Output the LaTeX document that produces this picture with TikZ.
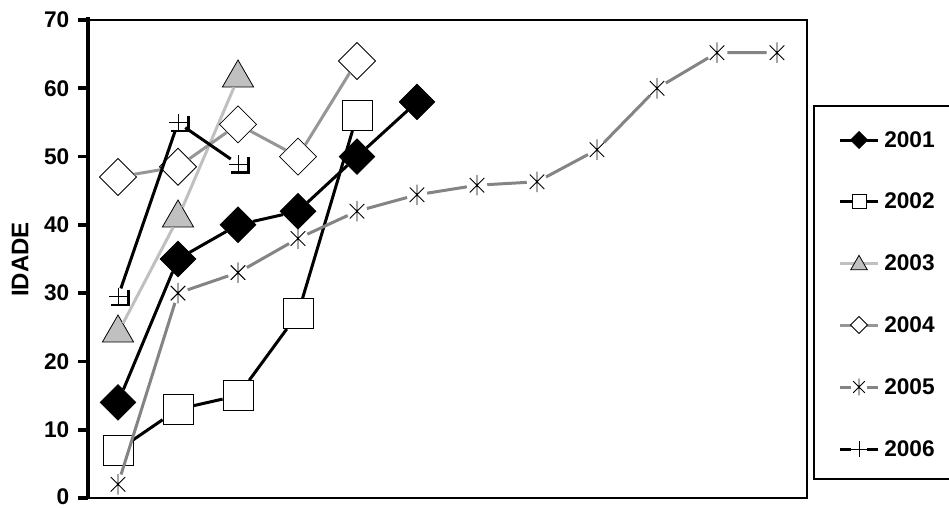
\documentclass[tikz,border=0pt]{standalone}
\usepackage{fontspec}
\setmainfont{Liberation Sans}
\usepackage{tikz}
\usetikzlibrary{shapes.geometric,calc}

\definecolor{lightline}{HTML}{C0C0C0}
\definecolor{midline}{HTML}{969696}
\definecolor{starline}{HTML}{848484}
\newcommand{\axfont}{\fontsize{17}{20}\selectfont\bfseries}

\tikzset{
  serie/.style={line width=2.25pt},
  fdiam/.style={diamond, draw=black, fill=black, line width=0.5pt, inner sep=0pt, minimum width=#1, minimum height=#1},
  odiam/.style={diamond, draw=black, fill=white, line width=0.6pt, inner sep=0pt, minimum width=#1, minimum height=#1},
  osq/.style={rectangle, draw=black, fill=white, line width=0.6pt, inner sep=0pt, minimum size=#1},
  gtri/.style={regular polygon, regular polygon sides=3, draw=black, fill=lightline, line width=0.6pt, inner sep=0pt, minimum size=#1},
  astk/.style={circle, inner sep=0pt, minimum size=#1},
  astkline/.style={black, line width=0.7pt}
}

\begin{document}
\begin{tikzpicture}[x=0.75pt,y=0.75pt,yscale=-1,xscale=1]
\useasboundingbox (0,0) rectangle (949,507);
%Plot frame
\draw [line width=0.9pt]  (88,20) -- (807,20) -- (807,498) -- (88,498) ;
%Axis
\draw [line width=3.4pt]  (88,17) -- (88,499) ;
\draw [line width=2.8pt]  (78,20) -- (88,20) (78,88.3) -- (88,88.3) (78,156.6) -- (88,156.6) (78,224.8) -- (88,224.8)
    (78,293.1) -- (88,293.1) (78,361.4) -- (88,361.4) (78,429.7) -- (88,429.7) (78,498) -- (88,498) ;
% Text Node
\draw (69.5,20) node (y70) [anchor=east][inner sep=0pt][font=\axfont] {70};
\draw (69.5,88.3) node (y60) [anchor=east][inner sep=0pt][font=\axfont] {60};
\draw (69.5,156.6) node (y50) [anchor=east][inner sep=0pt][font=\axfont] {50};
\draw (69.5,224.8) node (y40) [anchor=east][inner sep=0pt][font=\axfont] {40};
\draw (69.5,293.1) node (y30) [anchor=east][inner sep=0pt][font=\axfont] {30};
\draw (69.5,361.4) node (y20) [anchor=east][inner sep=0pt][font=\axfont] {20};
\draw (69.5,429.7) node (y10) [anchor=east][inner sep=0pt][font=\axfont] {10};
\draw (69.5,496.5) node (y0) [anchor=east][inner sep=0pt][font=\axfont] {0};
% Text Node
\draw (20,259.5) node (ylab) [rotate=90][inner sep=0pt][font=\fontsize{18}{21}\selectfont\bfseries] {IDADE};

%Series 2001
\node (a1) [fdiam=27pt] at (118,402.4) {};
\node (a2) [fdiam=27pt] at (178,259) {};
\node (a3) [fdiam=27pt] at (238,224.8) {};
\node (a4) [fdiam=27pt] at (298,211.2) {};
\node (a5) [fdiam=27pt] at (357,156.6) {};
\node (a6) [fdiam=27pt] at (417,101.9) {};
\draw [serie]  (a1) -- (a2) -- (a3) -- (a4) -- (a5) -- (a6) ;

%Series 2002
\node (b1) [osq=22.5pt] at (118,450.2) {};
\node (b2) [osq=22.5pt] at (178,409.2) {};
\node (b3) [osq=22.5pt] at (238,395.6) {};
\node (b4) [osq=22.5pt] at (298,313.6) {};
\node (b5) [osq=22.5pt] at (357,115.6) {};
\draw [serie]  (b1) -- (b2) -- (b3) -- (b4) -- (b5) ;

%Series 2003
\node (c1) [gtri=27pt] at (118,333) {};
\node (c2) [gtri=27pt] at (178,218) {};
\node (c3) [gtri=27pt] at (238,78) {};
\draw [serie, lightline]  (c1) -- (c2) -- (c3) ;

%Series 2004
\node (d1) [odiam=28pt] at (118,177) {};
\node (d2) [odiam=28pt] at (178,166.8) {};
\node (d3) [odiam=28pt] at (238,124.4) {};
\node (d4) [odiam=28pt] at (298,156.6) {};
\node (d5) [odiam=28pt] at (357,61) {};
\draw [serie, midline]  (d1) -- (d2) -- (d3) -- (d4) -- (d5) ;

%Series 2005
\node (e1) [astk=15pt] at (118,484.3) {};
\node (e2) [astk=15pt] at (178,293.1) {};
\node (e3) [astk=15pt] at (238,272.6) {};
\node (e4) [astk=15pt] at (298,238.5) {};
\node (e5) [astk=15pt] at (357,211.2) {};
\node (e6) [astk=15pt] at (417,194.8) {};
\node (e7) [astk=15pt] at (477,185.2) {};
\node (e8) [astk=15pt] at (537,181.8) {};
\node (e9) [astk=15pt] at (597,149.7) {};
\node (e10) [astk=15pt] at (657,88.3) {};
\node (e11) [astk=15pt] at (717,52.7) {};
\node (e12) [astk=15pt] at (777,52.7) {};
\draw [serie, starline]  (e1) -- (e2) -- (e3) -- (e4) -- (e5) -- (e6) -- (e7) -- (e8) -- (e9) -- (e10) -- (e11) -- (e12) ;
\draw [astkline]  (e1.north) -- (e1.south) (e1.45) -- (e1.225) (e1.135) -- (e1.315) ;
\draw [astkline]  (e2.north) -- (e2.south) (e2.45) -- (e2.225) (e2.135) -- (e2.315) ;
\draw [astkline]  (e3.north) -- (e3.south) (e3.45) -- (e3.225) (e3.135) -- (e3.315) ;
\draw [astkline]  (e4.north) -- (e4.south) (e4.45) -- (e4.225) (e4.135) -- (e4.315) ;
\draw [astkline]  (e5.north) -- (e5.south) (e5.45) -- (e5.225) (e5.135) -- (e5.315) ;
\draw [astkline]  (e6.north) -- (e6.south) (e6.45) -- (e6.225) (e6.135) -- (e6.315) ;
\draw [astkline]  (e7.north) -- (e7.south) (e7.45) -- (e7.225) (e7.135) -- (e7.315) ;
\draw [astkline]  (e8.north) -- (e8.south) (e8.45) -- (e8.225) (e8.135) -- (e8.315) ;
\draw [astkline]  (e9.north) -- (e9.south) (e9.45) -- (e9.225) (e9.135) -- (e9.315) ;
\draw [astkline]  (e10.north) -- (e10.south) (e10.45) -- (e10.225) (e10.135) -- (e10.315) ;
\draw [astkline]  (e11.north) -- (e11.south) (e11.45) -- (e11.225) (e11.135) -- (e11.315) ;
\draw [astkline]  (e12.north) -- (e12.south) (e12.45) -- (e12.225) (e12.135) -- (e12.315) ;

%Series 2006
\node (f1) [astk=12.75pt] at (118,296.7) {};
\node (f2) [astk=12.75pt] at (178,122.7) {};
\node (f3) [astk=12.75pt] at (238,164) {};
\draw [serie]  (f1) -- (f2) -- (f3) ;
\draw [astkline]  (f1.north) -- (f1.south) (f1.west) -- (f1.east) ;
\draw [astkline]  (f2.north) -- (f2.south) (f2.west) -- (f2.east) ;
\draw [astkline]  (f3.north) -- (f3.south) (f3.west) -- (f3.east) ;
\draw [line width=1.9pt]  ($(f1)+(-7,8.5)$) -| ($(f1)+(10.5,-7)$) ;
\draw [line width=1.9pt]  ($(f2)+(-7,8.5)$) -| ($(f2)+(10.5,-7)$) ;
\draw [line width=1.9pt]  ($(f3)+(-7,8.5)$) -| ($(f3)+(10.5,-7)$) ;

%Legend box
\draw [line width=0.9pt]  (950,106) -- (814,106) -- (814,479) -- (950,479) ;
%Legend 2001
\coordinate (la0) at (840,140) ; \coordinate (la9) at (878,140) ;
\draw [serie]  (la0) -- (la9) ;
\node (la) [fdiam=13pt] at (859,140) {};
\draw (884,140) node (ta) [anchor=west][inner sep=0pt][font=\axfont] {2001};
%Legend 2002
\coordinate (lb0) at (840,201) ; \coordinate (lb9) at (878,201) ;
\draw [serie]  (lb0) -- (lb9) ;
\node (lb) [osq=10.5pt] at (859,201) {};
\draw (884,201) node (tb) [anchor=west][inner sep=0pt][font=\axfont] {2002};
%Legend 2003
\coordinate (lc0) at (840,263) ; \coordinate (lc9) at (878,263) ;
\draw [serie, lightline]  (lc0) -- (lc9) ;
\node (lc) [gtri=14.5pt] at (859,265) {};
\draw (884,263) node (tc) [anchor=west][inner sep=0pt][font=\axfont] {2003};
%Legend 2004
\coordinate (ld0) at (840,325) ; \coordinate (ld9) at (878,325) ;
\draw [serie, midline]  (ld0) -- (ld9) ;
\node (ld) [odiam=13pt] at (859,325) {};
\draw (884,325) node (td) [anchor=west][inner sep=0pt][font=\axfont] {2004};
%Legend 2005
\coordinate (le0) at (840,387) ; \coordinate (le9) at (878,387) ;
\node (le) [astk=12pt] at (859,387) {};
\draw [serie, starline]  (le0) -- (le) -- (le9) ;
\draw [astkline]  (le.north) -- (le.south) (le.45) -- (le.225) (le.135) -- (le.315) ;
\draw (884,387) node (te) [anchor=west][inner sep=0pt][font=\axfont] {2005};
%Legend 2006
\coordinate (lf0) at (840,449) ; \coordinate (lf9) at (878,449) ;
\node (lf) [astk=11pt] at (859,449) {};
\draw [serie]  (lf0) -- (lf) -- (lf9) ;
\draw [astkline]  (lf.north) -- (lf.south) (lf.west) -- (lf.east) ;
\draw (884,449) node (tf) [anchor=west][inner sep=0pt][font=\axfont] {2006};
\end{tikzpicture}
\end{document}
